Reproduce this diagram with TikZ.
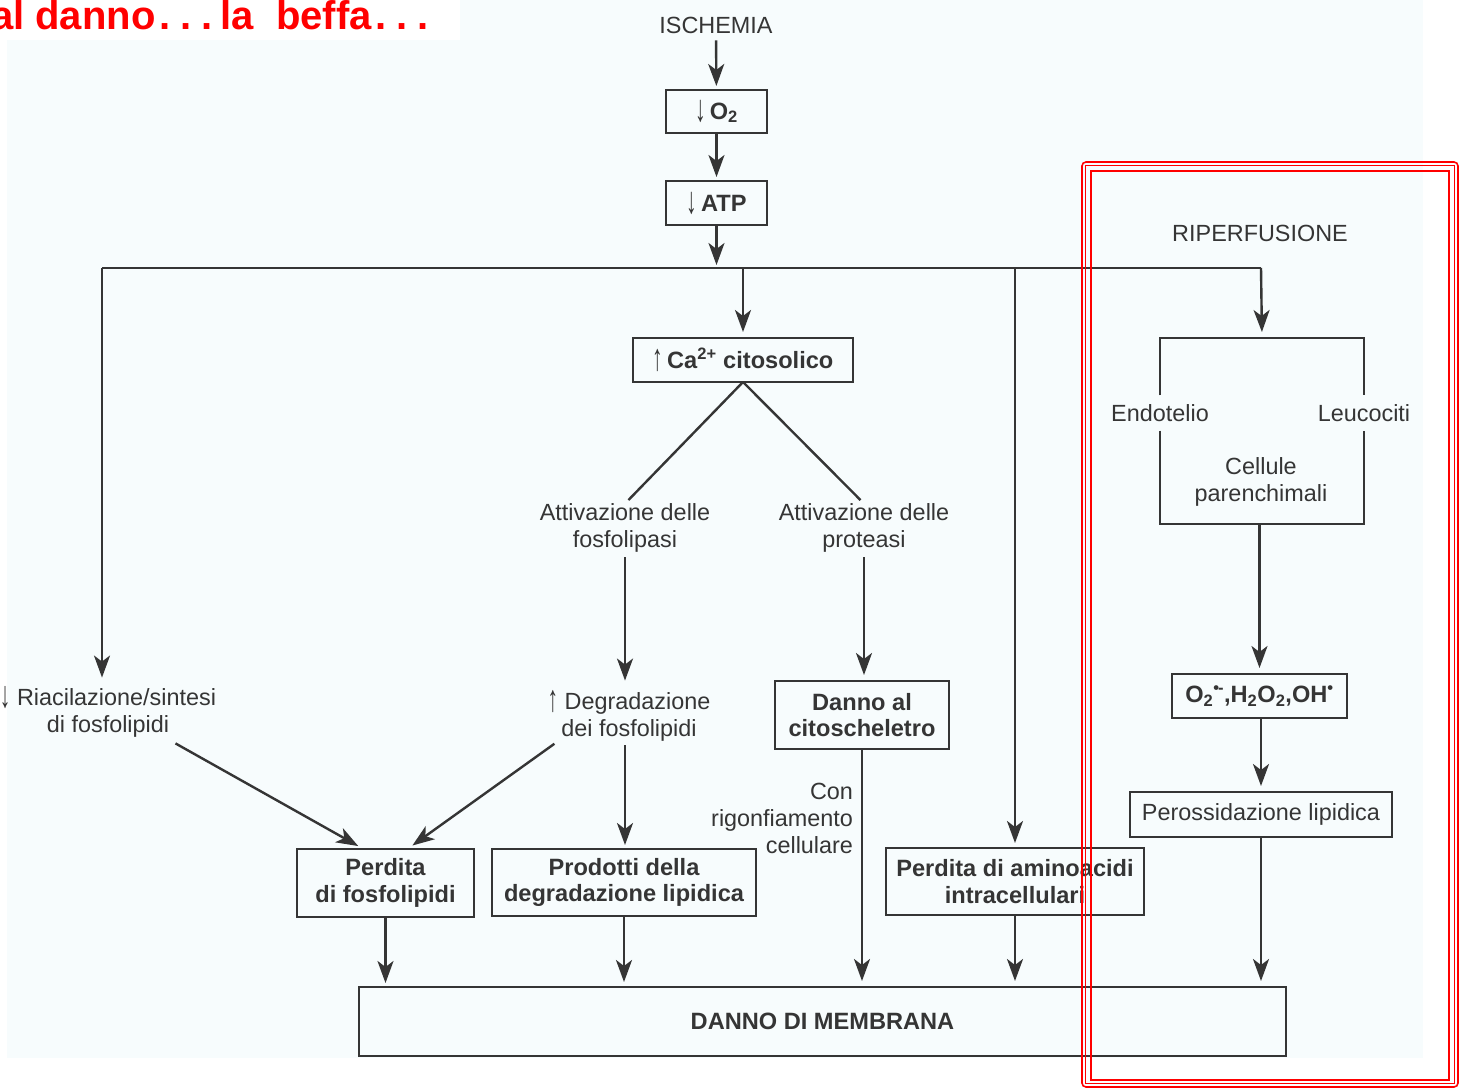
\documentclass[tikz,border=0pt]{standalone}
\usepackage{fontspec}
\setmainfont{Liberation Sans}
\newfontfamily\titlefont{Liberation Sans}
\usetikzlibrary{arrows.meta,calc}
\definecolor{ink}{HTML}{353535}
\definecolor{paper}{HTML}{F7FCFD}
\newcommand\dnar{\raisebox{-2pt}{\scalebox{0.9}[1.6]{\mdseries ↓}}}
\newcommand\upar{\raisebox{-2pt}{\scalebox{0.9}[1.6]{\mdseries ↑}}}
\begin{document}
\begin{tikzpicture}[x=1pt,y=-1pt,
  every node/.style={text=ink, inner sep=0pt, outer sep=0pt},
  lbl/.style={align=center, font=\fontsize{23.4}{27}\selectfont},
  box/.style={draw=ink, line width=2.6pt, align=center, fill=paper,
    font=\fontsize{23.6}{26.5}\selectfont\bfseries},
  rbox/.style={box, font=\fontsize{23.4}{26.5}\selectfont},
  conn/.style={draw=ink, line width=2.4pt},
  arr/.style={conn, -{Stealth[length=22pt,width=16pt,inset=6pt]}},
  redline/.style={draw=red, line width=2pt},
]
\useasboundingbox (0,0) rectangle (1460,1089);
\fill[white] (0,0) rectangle (1460,1089);
\fill[paper] (7,40) rectangle (1423,1058);
\fill[paper] (460,0) rectangle (1423,40);

% title
\node[anchor=base west, text=red, font=\titlefont\fontsize{40}{40}\selectfont\bfseries] (title) at (-9,30)
  {al danno\kern4pt.\kern10pt.\kern10pt.\kern8ptla\kern22ptbeffa\kern4pt.\kern10pt.\kern10pt.};

% main chain
\node[lbl] (isch) at (716,25) {ISCHEMIA};
\node[box, minimum width=101, minimum height=43] (o2) at (716.5,111.5) {\dnar\,O\textsubscript{2}};
\node[box, minimum width=101, minimum height=44] (atp) at (716.5,203) {\dnar\,ATP};
\coordinate (busL) at (102,268);
\coordinate (busR) at (1261,268);

\node[box, minimum width=220, minimum height=44] (ca) at (743,360) {\upar\,Ca\textsuperscript{2+} citosolico};
\node[lbl] (fosf) at (625,528) {Attivazione delle\\fosfolipasi};
\node[lbl] (prot) at (864,528) {Attivazione delle\\proteasi};
\node[lbl] (degr) at (629,716) {\upar\ Degradazione\\dei fosfolipidi};
\node[lbl] (riac) at (108,712) {\dnar\ Riacilazione/sintesi\\di fosfolipidi};
\node[box, minimum width=174, minimum height=68] (cito) at (862,715) {Danno al\\citoscheletro};
\node[lbl, align=right, anchor=east] (con) at (853,818) {Con\\rigonfiamento\\cellulare};

\node[box, minimum width=177, minimum height=68] (pf) at (385.5,883) {Perdita\\di fosfolipidi};
\node[box, minimum width=264, minimum height=67] (prod) at (624,882.5) {Prodotti della\\degradazione lipidica};
\node[box, minimum width=258, minimum height=67] (amino) at (1015,881.5) {Perdita di aminoacidi\\intracellulari};
\node[box, minimum width=927, minimum height=69] (mem) at (822.5,1021.5) {DANNO DI MEMBRANA};

% reperfusion
\node[lbl] (riperf) at (1260,233) {RIPERFUSIONE};
\node[minimum width=204, minimum height=186] (rep) at (1262,431) {};
\node[lbl] (endo) at (1160,413) {Endotelio};
\node[lbl] (leuc) at (1364,413) {Leucociti};
\node[lbl] (cell) at (1261,482) {Cellule\\parenchimali};
\node[box, minimum width=175, minimum height=44] (rad) at (1259.5,696)
  {O\textsubscript{2}\textsuperscript{•\kern-1pt-},H\textsubscript{2}O\textsubscript{2},OH\textsuperscript{•}};
\node[rbox, minimum width=262, minimum height=45] (perox) at (1261,814.5) {Perossidazione lipidica};

% connectors
\draw[arr, shorten <=7pt, shorten >=4pt] (isch) -- (o2);
\draw[arr, shorten >=4pt] (o2) -- (atp);
\draw[arr, shorten >=3pt] (atp) -- (atp.south |- busL);
\draw[conn] (busL) -- (busR);
\draw[arr, shorten >=9pt] (busL) -- (busL |- riac.north);
\draw[arr, shorten >=6pt] (ca.north |- busL) -- (ca.north);
\draw[arr, shorten >=5pt] (amino.north |- busL) -- (amino.north);
\draw[arr, shorten >=6pt] (busR) -- (rep.north);

\draw[conn, shorten >=5pt] (ca.south) -- (fosf.north);
\draw[conn, shorten >=5pt] (ca.south) -- (prot.north);
\draw[arr, shorten <=5pt, shorten >=10pt] (fosf.south) -- (fosf.south |- degr.north);
\draw[arr, shorten <=5pt, shorten >=6pt] (prot.south) -- (prot.south |- cito.north);
\draw[arr, shorten <=4pt, shorten >=4pt] (degr.south -| fosf.south) -- (fosf.south |- prod.north);
\draw[arr, shorten <=4pt, shorten >=6pt] ($(degr.south west)+(10,0)$) -- ($(pf.north)+(22,0)$);
\draw[arr, shorten <=4pt, shorten >=6pt] ($(riac.south)+(64,4)$) -- ($(pf.north)+(-22,0)$);
\draw[arr, shorten >=6pt] (cito.south) -- (cito.south |- mem.north);
\draw[arr, shorten >=4pt] (pf.south) -- (pf.south |- mem.north);
\draw[arr, shorten >=5pt] (prod.south) -- (prod.south |- mem.north);
\draw[arr, shorten >=6pt] (amino.south) -- (amino.south |- mem.north);

\draw[conn] ([yshift=9pt]endo.north) -- (rep.north west) -- (rep.north east) -- ([yshift=9pt]leuc.north);
\draw[conn] ([yshift=-9pt]endo.south) -- (rep.south west) -- (rep.south east) -- ([yshift=-9pt]leuc.south);
\draw[arr, shorten >=6pt] (rep.south) -- (rep.south -| rad.north) -- (rad.north);
\draw[arr, shorten >=6pt] (rad.south -| perox.north) -- (perox.north);
\draw[arr, shorten >=6pt] (perox.south) -- (perox.south |- mem.north);

% red frame
\draw[redline, line width=1.6pt, rounded corners=4pt] (1082,162) rectangle (1458,1087);
\draw[redline, line width=1.8pt] (1085.5,165.5) rectangle (1454.5,1083.5);
\draw[redline] (1090.5,171) rectangle (1449,1080);
\end{tikzpicture}
\end{document}
